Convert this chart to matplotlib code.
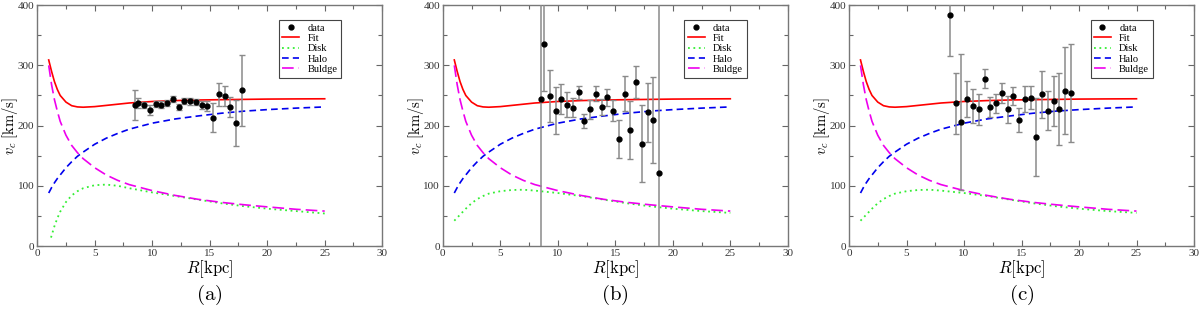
import matplotlib
matplotlib.use('Agg')
import matplotlib.pyplot as plt
from matplotlib.ticker import MultipleLocator

plt.rcParams['mathtext.fontset'] = 'cm'
plt.rcParams['font.family'] = 'Liberation Serif'

# model curves
r_model = [1, 1.25, 1.5, 1.75, 2, 2.5, 3, 3.5, 4, 5, 6, 7, 8, 10, 12, 14, 16, 18, 20, 22.5, 25]
v_fit = [309, 290, 273, 260, 250, 239, 233, 231, 230.5, 231.5, 233.5, 235.5, 237.5, 240, 241.5,
         242.5, 243, 243.5, 244, 244.3, 244.5]
v_bulge = [300, 268, 243, 224, 207, 184, 167, 155, 145, 130, 118, 109, 102, 92, 84,
           77.5, 72.5, 68.5, 65, 61, 58]
v_halo = [88, 97, 105, 112, 118, 130, 140, 149, 156, 169, 179, 187, 194, 204, 211,
          216, 220.5, 224, 226.5, 229, 231]

r_disk_a = [1.2, 1.5, 1.75, 2, 2.5, 3, 3.5, 4, 5, 6, 7, 8, 10, 12, 14, 16, 18, 20, 22.5, 25]
v_disk_a = [14, 33, 46, 57, 73, 84, 91, 96, 101, 102, 100, 96, 89, 83, 77, 71, 66, 62, 58, 54]
v_disk_bc = [42, 47, 52, 57, 62, 71, 78, 83, 87, 91, 93, 93.5, 92, 88, 83, 77, 71, 66, 62, 58, 55]

# data points
r_a = [8.5, 8.8, 9.3, 9.8, 10.3, 10.8, 11.3, 11.8, 12.3, 12.8, 13.3, 13.8, 14.3, 14.8,
       15.3, 15.8, 16.3, 16.8, 17.3, 17.8]
v_a = [234, 238, 234, 226, 236, 235, 237, 244, 231, 241, 240, 239, 234, 232,
       213, 252, 249, 231, 204, 259]
e_a = [25, 8, 5, 8, 5, 5, 5, 5, 5, 5, 5, 5, 7, 8, 24, 19, 17, 17, 38, 59]

r_b = [8.5, 8.8, 9.3, 9.8, 10.3, 10.8, 11.3, 11.8, 12.3, 12.8, 13.3, 13.8, 14.3, 14.8,
       15.3, 15.8, 16.3, 16.8, 17.3, 17.8, 18.3, 18.8]
v_b = [244, 335, 249, 225, 244, 235, 230, 255, 208, 227, 253, 231, 247, 225,
       178, 253, 193, 272, 170, 222, 209, 122]
e_b = [400, 77, 43, 39, 25, 20, 15, 11, 12, 16, 13, 13, 14, 17, 32, 29, 48, 27, 64, 49, 71, 400]

r_c = [8.75, 9.27, 9.77, 10.26, 10.78, 11.3, 11.8, 12.3, 12.8, 13.3, 13.8, 14.3, 14.8,
       15.3, 15.8, 16.3, 16.8, 17.3, 17.8, 18.3, 18.8, 19.3]
v_c = [383, 237, 206, 244, 232, 227, 278, 231, 237, 254, 227, 249, 209, 244,
       246, 181, 252, 225, 241, 228, 258, 254]
e_c = [67, 51, 113, 30, 28, 26, 16, 17, 16, 16.5, 22, 14.5, 20, 21, 19, 64, 39, 32, 41, 60, 72, 82]

panels = [('(a)', r_a, v_a, e_a, r_disk_a, v_disk_a),
          ('(b)', r_b, v_b, e_b, r_model, v_disk_bc),
          ('(c)', r_c, v_c, e_c, r_model, v_disk_bc)]
lefts = [0.031, 0.369, 0.7075]

fig = plt.figure(figsize=(12, 3.12), dpi=100)

for left, (tag, r, v, e, rd, vd) in zip(lefts, panels):
    ax = fig.add_axes([left, 0.2115, 0.2875, 0.772])
    h_data = ax.errorbar(r, v, yerr=e, fmt='o', color='black', ms=3.5, ecolor='#8a8a8a',
                         elinewidth=1.1, capsize=2.5, capthick=1, zorder=3)
    h_fit, = ax.plot(r_model, v_fit, color='#ff0000', lw=1.2)
    h_disk, = ax.plot(rd, vd, color='#33ee33', lw=1.3, ls=(0, (1, 2)))
    h_halo, = ax.plot(r_model, v_halo, color='#0000ee', lw=1.2, ls=(0, (4, 2.5)))
    h_bulge, = ax.plot(r_model, v_bulge, color='#ee00ee', lw=1.2, ls=(0, (7, 3)))

    ax.set_xlim(0, 30)
    ax.set_ylim(0, 400)
    ax.xaxis.set_major_locator(MultipleLocator(5))
    ax.xaxis.set_minor_locator(MultipleLocator(2.5))
    ax.yaxis.set_major_locator(MultipleLocator(100))
    ax.yaxis.set_minor_locator(MultipleLocator(50))
    ax.tick_params(which='both', direction='in', top=True, right=True,
                   color='#666666', labelsize=8, labelcolor='#333333', pad=2)
    ax.tick_params(which='major', length=4, width=0.8)
    ax.tick_params(which='minor', length=3, width=0.8)
    for s in ax.spines.values():
        s.set_color('#777777')
        s.set_linewidth(1)

    ax.set_xlabel(r'$R[\mathrm{kpc}]$', fontsize=12, labelpad=0)
    ax.set_ylabel(r'$v_c\ [\mathrm{km/s}]$', fontsize=10.5, va='center')
    ax.yaxis.set_label_coords(-0.079, 0.5)
    ax.text(0.5, -0.205, r'$\mathrm{' + tag + '}$', transform=ax.transAxes,
            ha='center', va='center', fontsize=15)

    leg = ax.legend([h_data[0], h_fit, h_disk, h_halo, h_bulge],
                    ['data', 'Fit', 'Disk', 'Halo', 'Buldge'],
                    loc='upper left', bbox_to_anchor=(0.70, 0.94), fontsize=7.5,
                    fancybox=False, framealpha=1, edgecolor='#444444',
                    handlelength=1.6, labelspacing=0.1, borderaxespad=0,
                    borderpad=0.35, handletextpad=0.8)
    leg.get_frame().set_linewidth(0.8)

fig.savefig('out.png', dpi=100)
